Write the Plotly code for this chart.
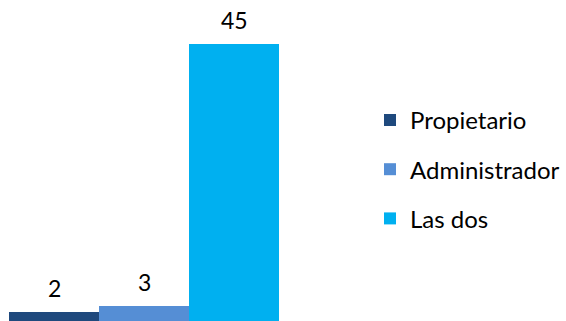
import plotly.graph_objects as go

categories = ["Propietario", "Administrador", "Las dos"]
values = [2, 3, 45]
colors = ["#1F497D", "#558ED5", "#00B0F0"]

FONT = "Lato"

fig = go.Figure()
for i, (name, val, col) in enumerate(zip(categories, values, colors)):
    fig.add_trace(go.Bar(
        x=[i], y=[val], name=name, marker=dict(color=col, line=dict(width=0)),
        width=1.0, legendgroup=name,
    ))
    fig.add_annotation(
        x=i, y=val, text=str(val), showarrow=False, yanchor="bottom", yshift=8,
        font=dict(family=FONT, size=23, color="#000000"),
    )

fig.update_layout(
    width=566, height=321,
    margin=dict(l=9, r=287, t=0, b=0),
    paper_bgcolor="white", plot_bgcolor="white",
    barmode="overlay", bargap=0,
    xaxis=dict(range=[-0.5, 2.5], visible=False, fixedrange=True),
    yaxis=dict(range=[0.55, 52.0], visible=False, fixedrange=True),
    showlegend=True,
    legend=dict(
        x=1.337, xanchor="left", y=0.695, yanchor="top",
        traceorder="grouped", tracegroupgap=15,
        font=dict(family=FONT, size=24, color="#000000"),
        bgcolor="rgba(0,0,0,0)",
    ),
    font=dict(family=FONT),
)

fig.write_html("out.html")
